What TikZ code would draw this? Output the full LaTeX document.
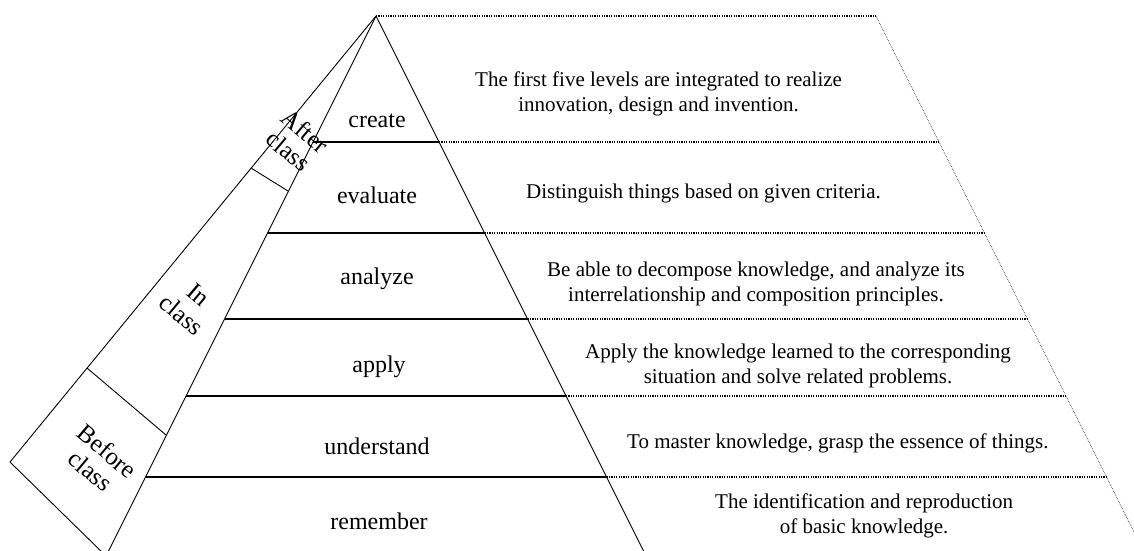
\documentclass[tikz,border=0pt]{standalone}
\usepackage{fontspec}
\setmainfont{Liberation Serif}
\begin{document}
\begin{tikzpicture}[x=1pt,y=-1pt,
  edge/.style={line width=0.9pt},
  divider/.style={line width=1.4pt},
  guide/.style={dash pattern=on 1.2pt off 1.2pt, line width=1.2pt},
  rim/.style={densely dotted, line width=0.6pt},
  level/.style={font=\fontsize{24}{28}\selectfont, inner sep=0pt},
  desc/.style={font=\fontsize{21}{25}\selectfont, align=center, inner sep=0pt, anchor=west},
  phase/.style={font=\fontsize{25}{26}\selectfont, align=center, inner sep=0pt, rotate=-40}]
\useasboundingbox (0,0) rectangle (1134,550);
\clip (0,0) rectangle (1134,550);
% main points
\coordinate (A) at (376,16);
\coordinate (T) at (876,16);
\coordinate (O) at (10,462);
\coordinate (B) at (106,556);
\coordinate (PL) at (96,576);
\coordinate (PR) at (656,576);
\coordinate (RR) at (1156,576);
% divider points: left edge, right edge, rim
\coordinate (l1) at (313,142);   \coordinate (r1) at (439,142);   \coordinate (d1) at (939,142);
\coordinate (l2) at (267.5,233); \coordinate (r2) at (484.5,233); \coordinate (d2) at (984.5,233);
\coordinate (l3) at (224.5,319); \coordinate (r3) at (527.5,319); \coordinate (d3) at (1027.5,319);
\coordinate (l4) at (186,396);   \coordinate (r4) at (566,396);   \coordinate (d4) at (1066,396);
\coordinate (l5) at (145.5,477); \coordinate (r5) at (606.5,477); \coordinate (d5) at (1106.5,477);
% side panel divider points
\coordinate (s1a) at (251,168); \coordinate (s1b) at (288,191);
\coordinate (s2a) at (87,368);  \coordinate (s2b) at (166,435);

% pyramid
\draw[edge] (A) -- (PL);
\draw[edge] (A) -- (PR);
% side panel
\draw[edge] (A) -- (O) -- (B);
\draw[edge] (s1a) -- (s1b);
\draw[edge] (s2a) -- (s2b);
% dividers
\foreach \i in {1,...,5} {
  \draw[divider] (l\i) -- (r\i);
  \draw[guide] (r\i) -- (d\i);
}
\draw[guide] (A) -- (T);
\draw[rim] (T) -- (RR);

% level labels
\node[level] (create) at (377,121) {create};
\node[level] (evaluate) at (377,195) {evaluate};
\node[level] (analyze) at (377,279) {analyze};
\node[level] (apply) at (379,367) {apply};
\node[level] (understand) at (377,446) {understand};
\node[level] (remember) at (379,521) {remember};

% phase labels
\node[phase] (after) at (297,141) {After\\class};
\node[phase] (inclass) at (190,305) {In\\class};
\node[phase] (before) at (99,461) {Before\\class};

% descriptions
\node[desc] (d-create) at (475,94) {The first five levels are integrated to realize\\innovation, design and invention.};
\node[desc] (d-evaluate) at (526,193) {Distinguish things based on given criteria.};
\node[desc] (d-analyze) at (547,284) {Be able to decompose knowledge, and analyze its\\interrelationship and composition principles.};
\node[desc] (d-apply) at (585,366) {Apply the knowledge learned to the corresponding\\situation and solve related problems.};
\node[desc] (d-understand) at (627,443) {To master knowledge, grasp the essence of things.};
\node[desc] (d-remember) at (715,516) {The identification and reproduction\\of basic knowledge.};
\end{tikzpicture}
\end{document}
